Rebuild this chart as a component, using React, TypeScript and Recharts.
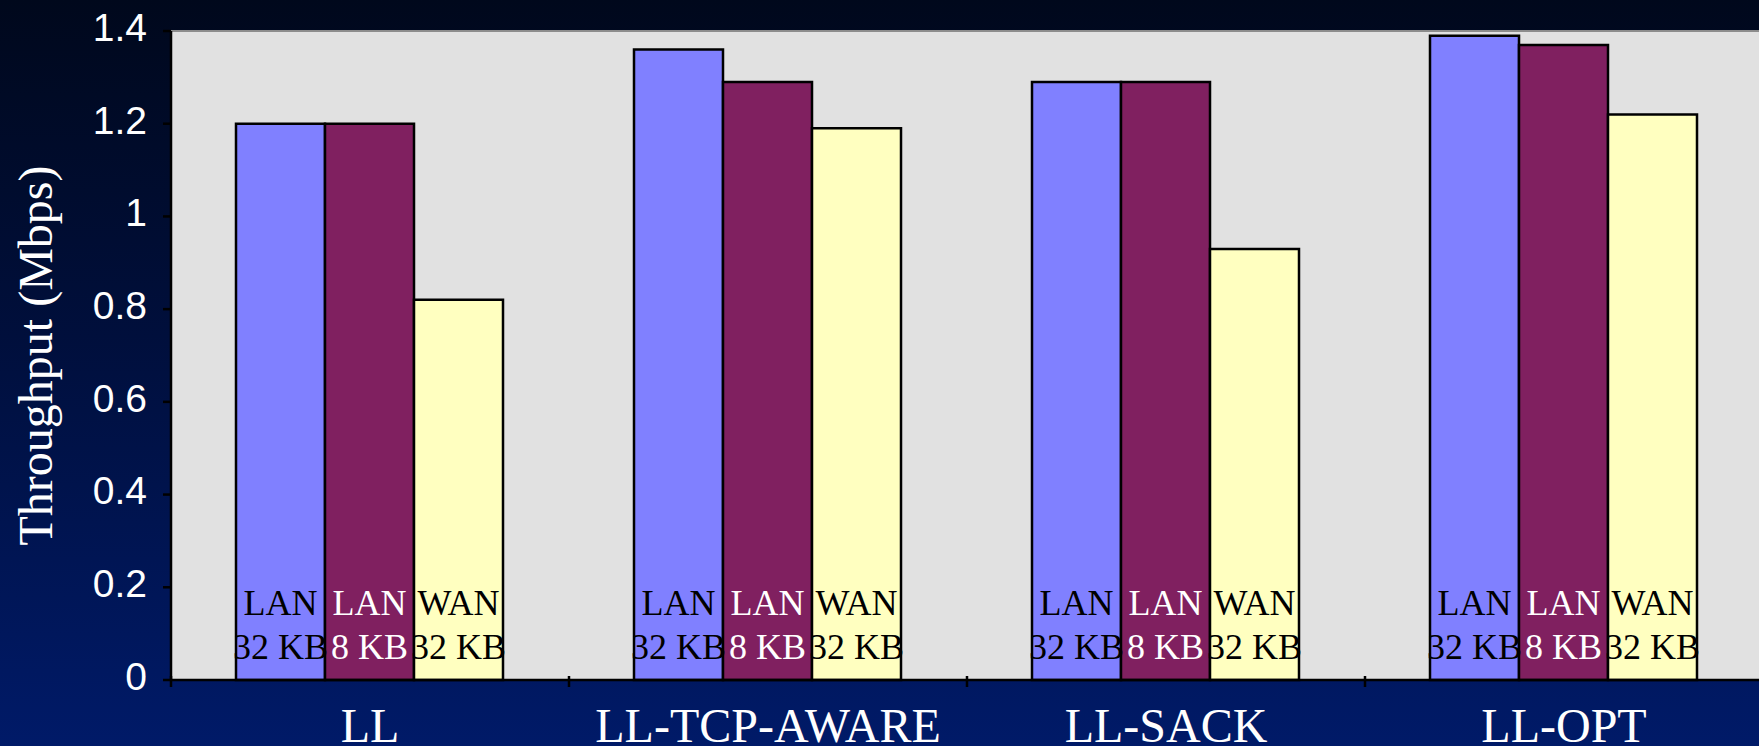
import React from 'react';
import {
  ComposedChart,
  Bar,
  XAxis,
  YAxis,
  CartesianGrid,
  LabelList,
  ReferenceLine,
} from 'recharts';

const categories = ['LL', 'LL-TCP-AWARE', 'LL-SACK', 'LL-OPT'];
const lan32 = [1.2, 1.36, 1.29, 1.39];
const lan8 = [1.2, 1.29, 1.29, 1.37];
const wan32 = [0.82, 1.19, 0.93, 1.22];

const yTicks = [0, 0.2, 0.4, 0.6, 0.8, 1, 1.2, 1.4];
const yAxisTitle = 'Throughput (Mbps)';

const seriesTop = ['LAN', 'LAN', 'WAN'];
const seriesBottom = ['32 KB', '8 KB', '32 KB'];

const SERIF = '"Liberation Serif", "Times New Roman", serif';
const SANS = '"Liberation Sans", Arial, sans-serif';

const data = categories.map((name, i) => ({
  name,
  lan32: lan32[i],
  lan8: lan8[i],
  wan32: wan32[i],
}));

// two-line caption sitting at the foot of each bar
function barCaption(series: number, color: string) {
  return (props: any) => {
    const { x, y, width, height } = props;
    const cx = Number(x) + Number(width) / 2;
    const bottom = Number(y) + Number(height);
    return (
      <g>
        <text x={cx} y={bottom - 65} textAnchor="middle" fill={color} fontFamily={SERIF} fontSize={36}>
          {seriesTop[series]}
        </text>
        <text x={cx} y={bottom - 21} textAnchor="middle" fill={color} fontFamily={SERIF} fontSize={36}>
          {seriesBottom[series]}
        </text>
      </g>
    );
  };
}

// category name below the axis, plus tick marks on the category boundaries
function CategoryTick(props: any) {
  const { x, y, payload, index } = props;
  const half = payload && typeof payload.offset === 'number' ? payload.offset : 199;
  const isLast = index === categories.length - 1;
  return (
    <g>
      <line x1={x - half} x2={x - half} y1={y - 4} y2={y + 7} stroke="#000" strokeWidth={2.5} />
      {isLast && <line x1={x + half} x2={x + half} y1={y - 4} y2={y + 7} stroke="#000" strokeWidth={2.5} />}
      <text x={x} y={y + 62} textAnchor="middle" fill="#fff" fontFamily={SERIF} fontSize={48}>
        {payload.value}
      </text>
    </g>
  );
}

function YTitle(props: any) {
  const vb = props.viewBox || {};
  const cy = vb.y + vb.height / 2;
  const bx = 52;
  return (
    <text
      x={bx}
      y={cy}
      transform={`rotate(-90, ${bx}, ${cy})`}
      textAnchor="middle"
      fill="#fff"
      fontFamily={SERIF}
      fontSize={48}
    >
      {yAxisTitle}
    </text>
  );
}

export default function App() {
  return (
    <div
      style={{
        position: 'fixed',
        left: 0,
        top: 0,
        width: 1759,
        height: 746,
        overflow: 'hidden',
        background: 'linear-gradient(to bottom, #00081c 0%, #000f3c 45%, #001a68 100%)',
      }}
    >
      <ComposedChart
        width={1770}
        height={746}
        data={data}
        margin={{ top: 31, right: 7, bottom: 0, left: 0 }}
        barCategoryGap={65}
        barGap={0}
      >
        <CartesianGrid fill="#e1e1e1" stroke="none" horizontal={false} vertical={false} />
        <ReferenceLine y={1.4} stroke="#8c8c8c" strokeWidth={2} />
        <XAxis
          dataKey="name"
          height={66}
          tickSize={0}
          tickMargin={0}
          tickLine={false}
          axisLine={{ stroke: '#000', strokeWidth: 2.5 }}
          tick={<CategoryTick />}
          interval={0}
        />
        <YAxis
          width={171}
          domain={[0, 1.4]}
          ticks={yTicks}
          interval={0}
          tickSize={8}
          tickMargin={16}
          tickLine={{ stroke: '#000', strokeWidth: 2.5 }}
          axisLine={{ stroke: '#000', strokeWidth: 2.5 }}
          tick={{ fill: '#fff', fontFamily: SANS, fontSize: 39, dy: -4 }}
          tickFormatter={(v: number) => String(v)}
          label={{ content: <YTitle /> }}
        />
        <Bar dataKey="lan32" fill="#8080ff" stroke="#000" strokeWidth={2.5} isAnimationActive={false}>
          <LabelList dataKey="lan32" content={barCaption(0, '#000')} />
        </Bar>
        <Bar dataKey="lan8" fill="#802060" stroke="#000" strokeWidth={2.5} isAnimationActive={false}>
          <LabelList dataKey="lan8" content={barCaption(1, '#fff')} />
        </Bar>
        <Bar dataKey="wan32" fill="#ffffc0" stroke="#000" strokeWidth={2.5} isAnimationActive={false}>
          <LabelList dataKey="wan32" content={barCaption(2, '#000')} />
        </Bar>
      </ComposedChart>
    </div>
  );
}
